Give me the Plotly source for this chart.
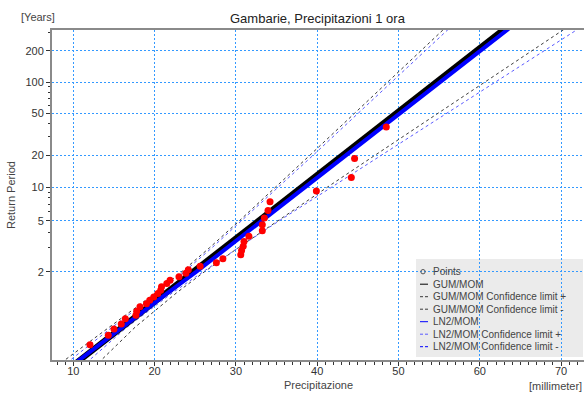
import numpy as np
import plotly.graph_objects as go

# ---------------- data ----------------
# observed points: return period [years] and precipitation [mm]
point_T = [37.0, 18.5, 12.33, 9.25, 7.4, 6.17, 5.29, 4.63, 4.11, 3.7, 3.36, 3.08,
           2.85, 2.64, 2.47, 2.31, 2.18, 2.06, 1.95, 1.85, 1.76, 1.68, 1.61, 1.54,
           1.48, 1.42, 1.37, 1.32, 1.28, 1.23, 1.19, 1.16, 1.12, 1.09, 1.06, 1.03]
point_mm = [48.5, 44.6, 44.2, 39.9, 34.2, 33.95, 33.5, 33.25, 33.25, 31.6, 31.0, 30.9,
            30.7, 30.6, 28.4, 27.6, 25.6, 24.15, 23.85, 23.0, 21.9, 21.5, 20.85, 20.75,
            20.4, 19.9, 19.4, 19.0, 18.2, 17.8, 17.7, 16.4, 15.9, 15.0, 14.3, 12.05]

# fitted curves, sampled at these return periods
curve_T = [1.005, 1.1, 1.5, 2, 3, 5, 10, 20, 50, 100, 200, 500]
gum_main = [10.38, 15.98, 21.50, 24.75, 28.54, 32.76, 38.06, 43.14, 49.72, 54.66, 59.57, 66.05]
gum_plus = [8.50, 14.37, 20.22, 23.35, 26.77, 30.41, 34.89, 39.13, 44.60, 48.70, 52.76, 58.11]
gum_minus = [13.10, 17.59, 22.78, 26.15, 30.31, 35.11, 41.23, 47.15, 54.84, 60.62, 66.38, 73.99]
ln_main = [10.28, 15.98, 21.70, 25.15, 28.94, 33.06, 38.36, 43.44, 50.07, 55.06, 60.02, 66.55]
ln_plus = [9.20, 14.77, 20.52, 23.65, 27.07, 30.71, 35.19, 39.53, 45.00, 49.20, 53.26, 58.71]
ln_minus = [11.60, 16.59, 22.28, 25.95, 30.31, 35.31, 41.73, 47.95, 55.94, 61.92, 67.88, 75.79]

y_major = [2, 5, 10, 20, 50, 100, 200]
y_minor = [3, 4, 6, 7, 8, 9, 30, 40, 60, 70, 80, 90, 300]
x_major = [10, 20, 30, 40, 50, 60, 70]

legend_labels = ["Points", "GUM/MOM", "GUM/MOM Confidence limit +", "GUM/MOM Confidence limit -",
                 "LN2/MOM", "LN2/MOM Confidence limit +", "LN2/MOM Confidence limit -"]


def gumbel(T):
    """Gumbel probability-paper scale for a return period."""
    T = np.asarray(T, dtype=float)
    return -np.log(-np.log(1.0 - 1.0 / T))


BLACK_D = "#3a3a3a"
BLUE_D = "#5a5aff"
GRID = "#3399ff"
AXIS = "#8a8a8a"

fig = go.Figure()
yc = gumbel(curve_T)
for xs, col in [(gum_plus, BLACK_D), (gum_minus, BLACK_D), (ln_plus, BLUE_D), (ln_minus, BLUE_D)]:
    fig.add_trace(go.Scatter(x=xs, y=yc, mode="lines",
                             line=dict(color=col, width=1, dash="3px,3px"),
                             showlegend=False, hoverinfo="skip"))
fig.add_trace(go.Scatter(x=gum_main, y=yc, mode="lines", line=dict(color="#000000", width=6),
                         showlegend=False))
fig.add_trace(go.Scatter(x=ln_main, y=yc, mode="lines", line=dict(color="#0000ff", width=4),
                         showlegend=False))
fig.add_trace(go.Scatter(x=point_mm, y=gumbel(point_T), mode="markers",
                         marker=dict(color="#ff0000", size=7, line=dict(width=0)),
                         showlegend=False))

# layout geometry (pixels)
W, H = 584, 395
L, R, T_, B = 52, 0, 30, 35
pw, ph = W - L - R, H - T_ - B


def px(xp):
    return (xp - L) / pw


def py(yp):
    return (H - B - yp) / ph


tickfont = dict(family="Liberation Sans, Arial, sans-serif", size=11, color="#333333")

fig.update_layout(
    width=W, height=H,
    margin=dict(l=L, r=R, t=T_, b=B, pad=0),
    plot_bgcolor="white", paper_bgcolor="white",
    showlegend=False,
    xaxis=dict(
        range=[7.38, 72.82], tickvals=x_major, ticktext=[str(v) for v in x_major],
        showgrid=True, gridcolor=GRID, griddash="2px,2px", gridwidth=1,
        zeroline=False, showline=True, linecolor=AXIS, linewidth=2, mirror=True,
        ticks="outside", ticklen=4, tickcolor="#333333", tickwidth=1,
        ticklabelstandoff=-4,
        minor=dict(dtick=1, tick0=0, ticks="outside", ticklen=3, tickcolor="#333333", showgrid=False),
        tickfont=tickfont,
    ),
    yaxis=dict(
        range=[-1.605, 5.761], tickvals=list(gumbel(y_major)), ticktext=[str(v) for v in y_major],
        showgrid=True, gridcolor=GRID, griddash="2px,2px", gridwidth=1,
        zeroline=False, showline=True, linecolor=AXIS, linewidth=2, mirror=False,
        ticks="outside", ticklen=4, tickcolor="#333333", tickwidth=1,
        minor=dict(tickmode="array", tickvals=list(gumbel(y_minor)), ticks="outside",
                   ticklen=2, tickcolor="#333333", showgrid=False),
        tickfont=tickfont,
    ),
)

ann_font = dict(family="Liberation Sans, Arial, sans-serif", size=11, color="#444444")
annotations = [
    dict(text="Gambarie, Precipitazioni 1 ora", x=px(318), y=py(19), xanchor="center", yanchor="middle",
         font=dict(family="Liberation Sans, Arial, sans-serif", size=13, color="#222222")),
    dict(text="[Years]", x=px(38), y=py(17), xanchor="center", yanchor="middle", font=ann_font),
    dict(text="Return Period", x=px(11), y=py(195), xanchor="center", yanchor="middle",
         textangle=-90, font=ann_font),
    dict(text="Precipitazione", x=px(318), y=py(385), xanchor="center", yanchor="middle", font=ann_font),
    dict(text="[millimeter]", x=px(584), y=py(386), xanchor="right", yanchor="middle", font=ann_font),
]

# custom compact legend
shapes = [dict(type="rect", xref="paper", yref="paper", x0=px(416), x1=px(583), y0=py(357), y1=py(259),
               fillcolor="#ebebeb", line=dict(width=0), layer="below")]
leg_font = dict(family="Liberation Sans, Arial, sans-serif", size=10, color="#444444")
styles = [None, ("#000000", "solid"), (BLACK_D, "dash"), (BLACK_D, "dash"),
          ("#0000ff", "solid"), (BLUE_D, "dash"), ("#0000ff", "dash")]
for i, lab in enumerate(legend_labels):
    yy = 271.7 + i * 12.5
    annotations.append(dict(text=lab, x=px(431), y=py(yy), xanchor="left", yanchor="middle",
                            showarrow=False, font=leg_font))
    if styles[i] is None:
        shapes.append(dict(type="circle", xref="paper", yref="paper", xsizemode="pixel", ysizemode="pixel",
                           xanchor=px(423), yanchor=py(yy), x0=-2.2, x1=2.2, y0=-2.2, y1=2.2,
                           line=dict(color="#555555", width=1)))
    else:
        col, dsh = styles[i]
        shapes.append(dict(type="line", xref="paper", yref="paper", x0=px(420), x1=px(428),
                           y0=py(yy), y1=py(yy),
                           line=dict(color=col, width=1, dash="3px,2px" if dsh == "dash" else "solid")))

for a in annotations:
    a.setdefault("showarrow", False)
    a["xref"] = "paper"
    a["yref"] = "paper"
fig.update_layout(annotations=annotations, shapes=shapes)

fig.write_html("out.html")
